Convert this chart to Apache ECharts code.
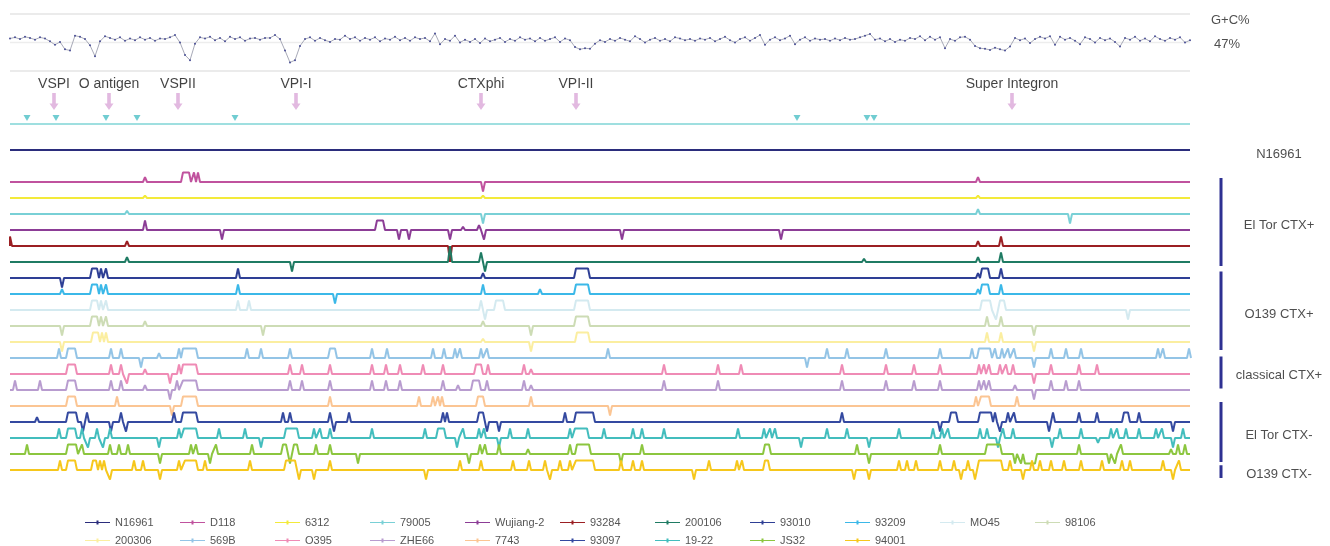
<!DOCTYPE html>
<html>
<head>
<meta charset="utf-8">
<script src="https://cdn.jsdelivr.net/npm/echarts@6/dist/echarts.min.js"></script>
<style>html,body{margin:0;padding:0;background:#fff}#c{width:1330px;height:546px}</style>
</head>
<body>
<div id="c"></div>
<script>
// ---------- data ----------
const genomeStart = 10, genomeEnd = 1190;
const gcStep = 5;
const gcValues = [
47.7,47.9,47.6,48.0,47.8,47.5,47.9,47.7,47.2,46.6,47.1,45.8,45.6,48.2,48.0,47.6,46.5,44.6,47.2,
48.1,47.8,47.5,47.9,47.3,47.7,47.4,47.9,47.5,47.8,47.3,47.7,47.6,47.9,48.3,47.0,44.8,43.9,46.8,47.9,
47.7,48.0,47.4,47.8,47.2,48.0,47.6,47.9,47.3,47.7,47.8,47.5,47.8,47.8,48.3,47.6,45.6,43.5,43.9,46.4,
47.6,47.9,47.3,47.8,47.4,47.1,47.6,47.5,48.2,47.6,47.9,47.3,47.8,47.5,47.9,47.2,47.7,47.5,48.0,47.4,
47.8,47.3,47.9,47.6,47.8,47.2,48.6,46.7,47.6,47.3,48.2,47.0,47.5,47.1,47.6,46.9,47.7,47.2,47.5,47.8,
47.1,47.6,47.3,47.9,47.5,47.7,47.2,47.8,47.3,47.6,47.9,47.1,47.7,47.4,46.2,45.8,46.0,45.9,46.8,47.4,
47.1,47.6,47.3,47.8,47.5,47.2,48.1,47.6,47.0,47.5,47.8,47.3,47.6,47.2,47.9,47.7,47.4,47.6,47.3,47.7,
47.5,47.8,47.2,47.6,48.0,47.4,47.0,47.6,47.9,47.3,47.8,48.3,46.6,47.5,47.9,47.4,47.7,48.2,46.7,47.5,
47.9,47.3,47.7,47.5,47.6,47.3,47.7,47.4,47.8,47.5,47.6,47.9,48.2,48.5,47.5,47.7,47.2,47.6,47.1,47.5,
47.3,47.8,47.6,48.1,47.4,48.0,47.5,47.9,46.0,47.6,47.3,47.9,48.0,47.5,46.4,46.0,45.9,45.7,46.1,45.8,
45.6,46.3,47.8,47.4,47.7,46.9,47.6,48.0,47.7,48.1,46.6,48.0,47.5,47.8,47.3,46.7,47.9,47.6,47.0,47.8,
47.4,47.7,47.1,46.3,47.8,47.5,48.0,47.3,47.7,47.2,48.1,47.6,47.3,47.8,47.5,47.9,47.0,47.4
];
const gcFrameLevels = [52, 47, 42];

const islandNames = ['VSPI', 'O antigen', 'VSPII', 'VPI-I', 'CTXphi', 'VPI-II', 'Super Integron'];
const islandPos = [54, 109, 178, 296, 481, 576, 1012];
const markerPos = [27, 56, 106, 137, 235, 797, 867, 874];

const strainNames = ['N16961','D118','6312','79005','Wujiang-2','93284','200106','93010','93209','MO45','98106',
  '200306','569B','O395','ZHE66','7743','93097','19-22','JS32','94001'];
const strainColors = ['#2b2d7c','#c0529e','#f3ea3a','#79d0d6','#8c3d96','#9b1f23','#1f7b63','#2e3f95','#3bb8e8','#d4eaf0','#cddcb5',
  '#fbeea0','#93c4e6','#ef8bb5','#b89ccf','#fbc593','#3449a0','#43bdbd','#8cc63f','#f6c71c'];
const strainTracks = [0,2,3,4,5,6,7,8,9,10,11,12,13,14,15,16,17,18,19,20];

// events: [position, direction(+1 gain/-1 loss), plateau width, amplitude]
const evN16961 = [];
const evD118 = [[145,1,0,0.3],[183,1,6],[194,1],[198,1],[483,-1],[978,1,0,0.3]];
const ev6312 = [[145,1,0,0.15],[483,1,0,0.15],[978,1,0,0.15]];
const ev79005 = [[127,1,0,0.2],[483,-1],[978,1,0,0.3],[1070,-1]];
const evWujiang2 = [[145,1],[222,-1],[377,1,6],[399,-1],[409,-1],[450,-1],[463,1,0,0.2],[479,1,0,0.3],[484,-1],[622,-1],[781,-1]];
const ev93284 = [[10,1,0,0.6],[127,1,0,0.3],[450,-1,0,1.0],[978,1,0,0.3],[1001,1]];
const ev200106 = [[127,1,0,0.3],[292,-1],[450,1,0,1.0],[481,1],[485,-1],[864,1,0,0.2],[978,1,0,0.3],[1001,1]];
const ev93010 = [[62,-1],[92,1,5],[101,1],[106,1],[238,1],[483,1,0,0.3],[576,1,12],[978,1,0,0.3],[982,1,6],[1001,1]];
const ev93209 = [[62,1,0,0.3],[92,1,5],[101,1],[106,1],[238,1],[335,-1],[483,1],[540,1,0,0.3],[576,1,12],[978,1,0,0.3],[982,1,6],[1001,1]];
const evMO45 = [[92,1,5],[101,1],[106,1],[238,1],[249,1],[481,1],[485,-1],[496,1,7],[576,1,12],[982,1,8],[996,-1],[1000,1,4],[1128,-1]];
const ev98106 = [[62,-1],[92,1,5],[101,1],[106,1],[145,1,0,0.3],[263,-1],[483,1,0,0.3],[531,-1],[576,1,12],[987,1],[1001,1],[1034,-1]];
const ev200306 = [[62,-1],[93,1,5],[102,1],[106,1],[483,1,0,0.2],[531,-1],[577,1,11],[987,1],[1001,1],[1034,-1]];
const ev569B = [[59,1],[68,1,7],[111,1],[121,1],[141,-1],[159,1,0,0.3],[179,1],[183,1,13],[247,1],[261,1],[290,1],[330,1,5],[372,1],[387,1],
  [433,1],[444,1],[455,1],[460,1],[481,1],[487,1],[608,1],[807,-1],[827,1],[847,1],[886,1],[940,1],[972,1],[979,1,11],[995,1],[1002,1],
  [1008,1],[1014,1],[1034,-1],[1051,1],[1066,1],[1081,1],[1158,1],[1163,1],[1189,1]];
const evO395 = [[68,1,7],[111,1],[121,1],[127,-1],[145,1,0,0.3],[170,-1],[179,1],[183,1,13],[290,1],[302,1],[330,1],[372,1],[386,1],[400,1],
  [423,1],[443,1],[476,1,5],[488,1],[524,1],[531,1,0,0.3],[664,1],[718,1],[741,1],[842,1],[886,1],[914,1],[940,1],[979,1],[984,1],[989,1],
  [1000,1],[1006,1],[1013,1],[1034,-1],[1051,1],[1079,1],[1097,1]];
const evZHE66 = [[15,1],[40,1],[68,1,7],[111,1],[121,1],[145,1,0,0.3],[170,-1],[177,1],[183,1,13],[290,1],[302,1],[330,1],[372,1],[386,1],
  [400,1],[443,1],[458,1,0,0.3],[473,1,6],[487,1],[524,1],[531,1,0,0.3],[664,1],[718,1],[842,1],[886,1],[914,1],[940,1],[979,1],[984,1],
  [989,1],[1015,1,0,0.3],[1034,-1],[1051,1],[1066,1],[1079,1]];
const ev7743 = [[68,1,7],[117,1],[172,-1],[183,1,13],[330,1],[419,1],[433,1],[438,1],[442,1],[478,1,5],[531,1],[610,-1],[976,1],[981,1,8],[1017,1]];
const ev93097 = [[37,1,0,0.3],[68,1,8],[83,-1],[87,1],[111,-1],[121,1],[126,-1],[174,1],[183,1,13],[283,1],[290,1],[330,1],[334,-1],[349,1],
  [443,1],[447,1],[479,1,4],[487,-1],[499,-1],[565,1],[576,1,17],[842,1],[940,-1],[951,1,5],[980,1,11],[995,1],[1000,-1],[1008,1],[1014,1],
  [1049,-1],[1053,1],[1079,1],[1097,1],[1124,1,4],[1139,1],[1173,-1]];
const ev1922 = [[59,1],[68,1,7],[82,1],[88,-1],[97,1],[103,-1],[110,1],[159,-1],[179,1],[184,1,12],[219,1],[245,1],[261,-1],[286,1,11],
  [314,1],[320,1],[330,1],[372,1],[425,1],[438,1,6],[457,-1],[463,1],[479,1],[484,1],[499,-1],[510,1],[528,1],[570,1],[575,1,12],[604,1],
  [633,1],[642,1],[664,1],[738,1],[764,1],[770,1],[775,1],[801,-1],[827,1],[847,1],[869,-1],[899,1],[933,1],[942,1],[948,1],[980,1],[987,1],
  [998,-1],[1003,1],[1013,1],[1052,-1],[1060,1],[1081,1],[1098,-1,0,0.3],[1111,1],[1117,1],[1126,1],[1139,1],[1156,1],[1162,1],[1173,-1],[1183,1]];
const evJS32 = [[27,1],[68,1,8],[82,1],[110,1],[119,1],[128,1],[160,-1],[191,1],[196,1],[210,-1],[216,1],[252,1],[283,1,3],[290,-1],[294,1,3],
  [316,1],[330,1],[358,-1],[469,-1],[480,1],[485,1],[499,1],[528,1,0,0.3],[570,1],[577,1,12],[621,-1],[642,1],[765,1,4],[857,1],[869,-1],
  [940,1],[987,1,13],[1015,-1],[1021,-1],[1025,-1,10],[1079,1],[1109,-1],[1115,-1],[1121,1],[1171,1,0,0.3],[1178,1],[1185,1]];
const ev94001 = [[60,1],[68,1,7],[93,1,3],[100,1],[104,1],[110,-1],[134,1],[143,1],[160,-1],[179,1],[185,1,11],[205,1],[250,1],[286,1,9],
  [299,-1],[314,-1],[330,1],[426,-1],[460,1],[481,1],[513,1],[529,1],[545,1],[550,-1],[560,1],[570,1],[576,1,17],[621,1],[633,1],[642,1],
  [694,-1],[709,1],[737,1],[742,1],[765,1,3],[854,-1],[869,-1],[899,1],[907,1],[916,1],[940,1],[954,1],[961,-1],[968,1],[975,-1],[979,1,22],
  [1010,1],[1023,-1],[1032,1],[1040,1],[1051,1],[1064,1],[1081,1],[1102,1],[1122,1],[1130,1],[1163,1],[1173,-1],[1179,1]];
const strainEvents = [evN16961, evD118, ev6312, ev79005, evWujiang2, ev93284, ev200106, ev93010, ev93209, evMO45, ev98106,
  ev200306, ev569B, evO395, evZHE66, ev7743, ev93097, ev1922, evJS32, ev94001];

const groupNames = ['El Tor CTX+', 'O139 CTX+', 'classical CTX+', 'El Tor CTX-', 'O139 CTX-'];
const groupSpans = [[1.75, 7.25], [7.6, 12.5], [12.9, 14.9], [15.75, 19.5], [19.7, 20.5]];

// ---------- build ----------
const AMP = 0.6, HALF = 2;
function buildTrack(track, events) {
  const pts = [[genomeStart, track]];
  const push = (x, y) => { if (x >= genomeStart && x <= genomeEnd + 2) pts.push([x, y]); };
  events.forEach(e => {
    const p = e[0], d = e[1], w = e[2] || 0, a = e[3] === undefined ? AMP : e[3];
    const peak = track - d * a;
    push(p - HALF, track); push(p, peak);
    if (w > 0) push(p + w, peak);
    push(p + w + HALF, track);
  });
  if (pts[pts.length - 1][0] < genomeEnd) pts.push([genomeEnd, track]);
  return pts;
}

const series = [];
series.push({
  name: 'G+C%', type: 'line', xAxisIndex: 0, yAxisIndex: 0, silent: true,
  data: gcValues.map((v, i) => [genomeStart + i * gcStep, v]),
  symbol: 'circle', symbolSize: 2, showSymbol: true,
  itemStyle: { color: '#4a4f96' }, lineStyle: { color: '#a8aab8', width: 1 }, z: 3
});
gcFrameLevels.forEach((lv, i) => series.push({
  type: 'line', xAxisIndex: 0, yAxisIndex: 0, silent: true, symbol: 'none', clip: false,
  data: [[genomeStart, lv], [genomeEnd, lv]],
  lineStyle: { color: i === 1 ? '#ededed' : '#e4e4e4', width: 1.5 }, z: 1
}));
series.push({
  type: 'line', xAxisIndex: 1, yAxisIndex: 1, silent: true, symbol: 'none',
  data: [[genomeStart, -1.625], [genomeEnd, -1.625]], lineStyle: { color: '#7fd4d6', width: 1.5 }
});
series.push({
  type: 'scatter', xAxisIndex: 1, yAxisIndex: 1, silent: true, symbol: 'triangle', symbolRotate: 180,
  symbolSize: [7, 6], itemStyle: { color: '#4cbfc6' }, data: markerPos.map(p => [p, -2])
});
series.push({
  type: 'scatter', xAxisIndex: 1, yAxisIndex: 1, silent: true,
  symbol: 'path://M3,0 L7,0 L7,11 L10,11 L5,18 L0,11 L3,11 Z', symbolSize: [9, 17],
  itemStyle: { color: '#dba8d8' }, data: islandPos.map(p => [p, -3.03])
});
series.push({
  type: 'scatter', xAxisIndex: 1, yAxisIndex: 1, silent: true, symbolSize: 0,
  data: islandPos.map((p, i) => ({ value: [p, -4.1], name: islandNames[i] })),
  label: { show: true, position: 'inside', formatter: '{b}', color: '#111', fontSize: 14, fontFamily: 'Liberation Sans, Arial' }
});
strainNames.forEach((nm, i) => series.push({
  name: nm, type: 'line', xAxisIndex: 1, yAxisIndex: 1, symbol: 'none', silent: true,
  data: buildTrack(strainTracks[i], strainEvents[i]),
  color: strainColors[i], lineStyle: { color: strainColors[i], width: 2 }, z: 2
}));
groupSpans.forEach(s => series.push({
  type: 'line', xAxisIndex: 1, yAxisIndex: 1, symbol: 'none', silent: true,
  data: [[1221, s[0]], [1221, s[1]]], lineStyle: { color: '#2e3192', width: 3 }
}));
series.push({
  type: 'scatter', xAxisIndex: 1, yAxisIndex: 1, silent: true, symbolSize: 0,
  data: [{ value: [1279, 0.3], name: 'N16961' }].concat(
    groupSpans.map((s, i) => ({ value: [1279, (s[0] + s[1]) / 2 + 0.2], name: groupNames[i] }))),
  label: { show: true, position: 'inside', formatter: '{b}', color: '#222', fontSize: 13, fontFamily: 'Liberation Sans, Arial' }
});
series.push({
  type: 'scatter', xAxisIndex: 0, yAxisIndex: 0, silent: true, symbolSize: 0,
  data: [{ value: [1211, 50.8], name: 'G+C%' }, { value: [1214, 46.6], name: '47%' }],
  label: { show: true, position: 'right', distance: 0, formatter: '{b}', color: '#222', fontSize: 13, fontFamily: 'Liberation Sans, Arial' }
});

// one legend entry per slot so that entries sit on a fixed 95px pitch, 11 per row
const legends = strainNames.map((n, i) => ({
  data: [n], left: 80 + (i % 11) * 95, top: i < 11 ? 512 : 530,
  itemWidth: 25, itemHeight: 5, selectedMode: false,
  icon: 'path://M0,2 L25,2 L25,3 L0,3 Z M11.5,0.5 L13.5,0.5 L13.5,4.5 L11.5,4.5 Z',
  textStyle: { color: '#555', fontSize: 11, fontFamily: 'Liberation Sans, Arial' }
}));

const option = {
  animation: false,
  backgroundColor: '#fff',
  grid: [
    { left: 0, top: 14, width: 1330, height: 57 },
    { left: 0, top: 70, width: 1330, height: 416 }
  ],
  xAxis: [
    { type: 'value', gridIndex: 0, min: 0, max: 1330, show: false },
    { type: 'value', gridIndex: 1, min: 0, max: 1330, show: false }
  ],
  yAxis: [
    { type: 'value', gridIndex: 0, min: 42, max: 52, show: false },
    { type: 'value', gridIndex: 1, min: -5, max: 21, inverse: true, show: false }
  ],
  legend: legends,
  series
};
const chart = echarts.init(document.getElementById('c'), null, { renderer: 'canvas' });
chart.setOption(option);
</script>
</body>
</html>
